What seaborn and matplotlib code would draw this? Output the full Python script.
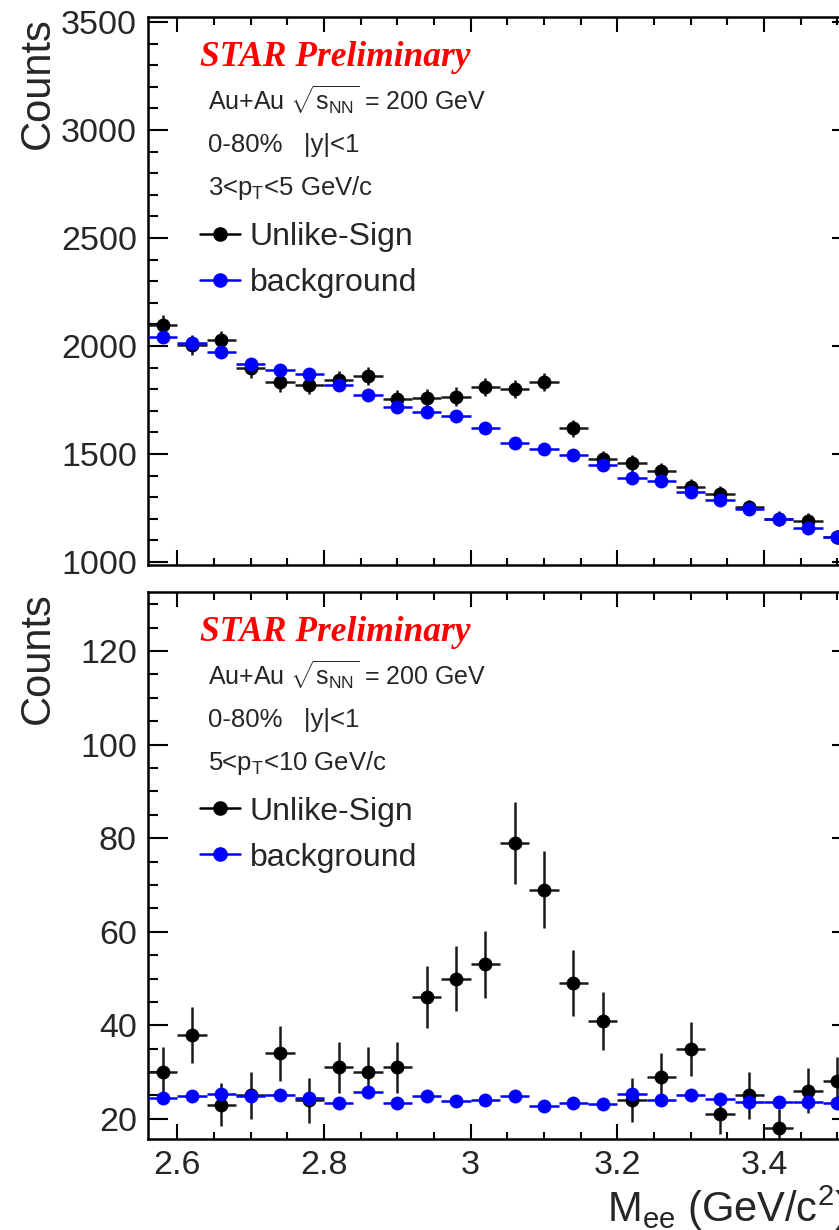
import numpy as np
import matplotlib
matplotlib.use("Agg")
import matplotlib.pyplot as plt
from matplotlib.ticker import MultipleLocator, FuncFormatter
from matplotlib.lines import Line2D
import seaborn as sns

sns.set_style("ticks")
plt.rcParams["font.family"] = ["Liberation Sans", "DejaVu Sans"]
plt.rcParams["mathtext.fontset"] = "custom"
plt.rcParams["mathtext.rm"] = "Liberation Sans"
plt.rcParams["mathtext.it"] = "Liberation Sans:italic"
plt.rcParams["mathtext.bf"] = "Liberation Sans:bold"

# Di-electron invariant mass bin centres (GeV/c^2), bin width 0.04
mass = [2.58, 2.62, 2.66, 2.70, 2.74, 2.78, 2.82, 2.86, 2.90, 2.94, 2.98, 3.02,
        3.06, 3.10, 3.14, 3.18, 3.22, 3.26, 3.30, 3.34, 3.38, 3.42, 3.46, 3.50]
half_bin = 0.02

# 3 < pT < 5 GeV/c
low_unlike = [2096, 2005, 2026, 1896, 1831, 1820, 1843, 1861, 1755, 1760, 1766, 1810,
              1801, 1833, 1618, 1476, 1456, 1419, 1349, 1317, 1254, 1201, 1192, 1114]
low_unlike_err = [46, 45, 45, 44, 43, 43, 43, 43, 42, 42, 42, 43,
                  42, 43, 40, 38, 38, 38, 37, 36, 35, 35, 35, 33]
low_bkg = [2043, 2012, 1971, 1918, 1891, 1869, 1820, 1773, 1716, 1696, 1675, 1618,
           1552, 1523, 1496, 1448, 1389, 1375, 1326, 1286, 1245, 1199, 1156, 1116]
low_bkg_err = [20, 20, 20, 19, 19, 19, 19, 19, 18, 18, 18, 18,
               18, 18, 17, 17, 17, 17, 16, 16, 16, 16, 15, 15]

# 5 < pT < 10 GeV/c
high_unlike = [30, 38, 23, 25, 34, 24, 31, 30, 31, 46, 50, 53,
               79, 69, 49, 41, 24, 29, 35, 21, 25, 18, 26, 28]
high_unlike_err = [5.4, 6.0, 4.6, 5.0, 5.8, 4.8, 5.5, 5.3, 5.5, 6.6, 6.9, 7.1,
                   8.7, 8.3, 7.0, 6.2, 4.7, 5.1, 5.8, 4.3, 5.0, 4.2, 4.8, 5.3]
high_bkg = [24.5, 24.9, 25.3, 24.8, 25.2, 24.4, 23.3, 25.8, 23.3, 24.8, 23.8, 24.0,
            24.8, 22.8, 23.5, 23.2, 25.3, 24.0, 25.2, 24.3, 23.7, 23.6, 23.7, 23.3]
high_bkg_err = [0.6] * 24

panel_text = [
    ["3<p$_{\\mathregular{T}}$<5 GeV/c"],
    ["5<p$_{\\mathregular{T}}$<10 GeV/c"],
]

W, H = 839, 1230
fig = plt.figure(figsize=(W / 100, H / 100), dpi=100)

left_px, width_px = 148, 704
ax1 = fig.add_axes([left_px / W, 1 - 565 / H, width_px / W, 548 / H])
ax2 = fig.add_axes([left_px / W, 1 - 1139 / H, width_px / W, 547 / H])

BLUE = "#0000ff"


def draw_panel(ax, unlike, unlike_err, bkg, bkg_err):
    ax.errorbar(mass, unlike, xerr=half_bin, yerr=unlike_err, fmt="none",
                ecolor="#1a1a1a", elinewidth=1.8, capsize=0, zorder=2)
    sns.scatterplot(x=mass, y=unlike, color="black", s=100, linewidth=0,
                    ax=ax, zorder=3)
    ax.errorbar(mass, bkg, xerr=half_bin, yerr=bkg_err, fmt="none",
                ecolor=BLUE, elinewidth=1.8, capsize=0, zorder=4)
    sns.scatterplot(x=mass, y=bkg, color=BLUE, s=100, linewidth=0,
                    ax=ax, zorder=5)


draw_panel(ax1, low_unlike, low_unlike_err, low_bkg, low_bkg_err)
draw_panel(ax2, high_unlike, high_unlike_err, high_bkg, high_bkg_err)

ax1.set_ylim(986, 3523)
ax2.set_ylim(15.7, 132.6)
ax1.yaxis.set_major_locator(MultipleLocator(500))
ax1.yaxis.set_minor_locator(MultipleLocator(100))
ax2.yaxis.set_major_locator(MultipleLocator(20))
ax2.yaxis.set_minor_locator(MultipleLocator(5))

fmt = FuncFormatter(lambda v, p: f"{v:g}")
for ax in (ax1, ax2):
    ax.set_xlim(2.56, 3.52)
    ax.xaxis.set_major_locator(MultipleLocator(0.2))
    ax.xaxis.set_minor_locator(MultipleLocator(0.05))
    ax.xaxis.set_major_formatter(fmt)
    ax.yaxis.set_major_formatter(fmt)
    for s in ax.spines.values():
        s.set_linewidth(1.8)
        s.set_color("black")
    ax.tick_params(which="both", direction="in", top=True, right=True,
                   width=1.5, color="black", labelsize=24.5)
    ax.tick_params(axis="y", which="major", length=14.4, pad=8)
    ax.tick_params(axis="y", which="minor", length=7.2)
    ax.tick_params(axis="x", which="major", length=10.8, pad=8)
    ax.tick_params(axis="x", which="minor", length=5.4)
    ax.set_ylabel("Counts", fontsize=30, loc="top")
    ax.yaxis.set_label_coords(-0.128, 1.0)
    ax.set_xlabel("")

ax_h = 548.0


def fx(px):
    return (px - left_px) / width_px


def fy(dpx):
    return 1 - dpx / ax_h


ax1.tick_params(axis="x", labelbottom=False)
ax2.set_xlabel("M$_{\\mathregular{ee}}$ (GeV/c$^{\\mathregular{2}}$)",
               fontsize=30, loc="right")
ax2.xaxis.set_label_coords(fx(848), -0.082)

for ax, lines in ((ax1, panel_text[0]), (ax2, panel_text[1])):
    ax.text(fx(200), fy(49), "STAR Preliminary", transform=ax.transAxes,
            family=["Liberation Serif", "DejaVu Serif"], weight="bold",
            style="italic", color="#ff0000", fontsize=25.5, va="baseline")
    ax.text(fx(208), fy(94), "Au+Au $\\sqrt{\\mathregular{s_{NN}}}$ = 200 GeV",
            transform=ax.transAxes, fontsize=18, va="baseline")
    ax.text(fx(208), fy(135), "0-80%   |y|<1", transform=ax.transAxes,
            fontsize=18.5, va="baseline")
    ax.text(fx(208), fy(178), lines[0], transform=ax.transAxes,
            fontsize=18.5, va="baseline")
    handles = [
        Line2D([0], [0], color="black", lw=1.8, marker="o", markersize=9.5),
        Line2D([0], [0], color=BLUE, lw=1.8, marker="o", markersize=9.5),
    ]
    ax.legend(handles, ["Unlike-Sign", "background"], loc="upper left",
              bbox_to_anchor=(fx(200), fy(205)), frameon=False, fontsize=23,
              borderpad=0, borderaxespad=0, handlelength=1.25,
              handletextpad=0.3, labelspacing=0.5, numpoints=1)

fig.savefig("out.png", dpi=100)
